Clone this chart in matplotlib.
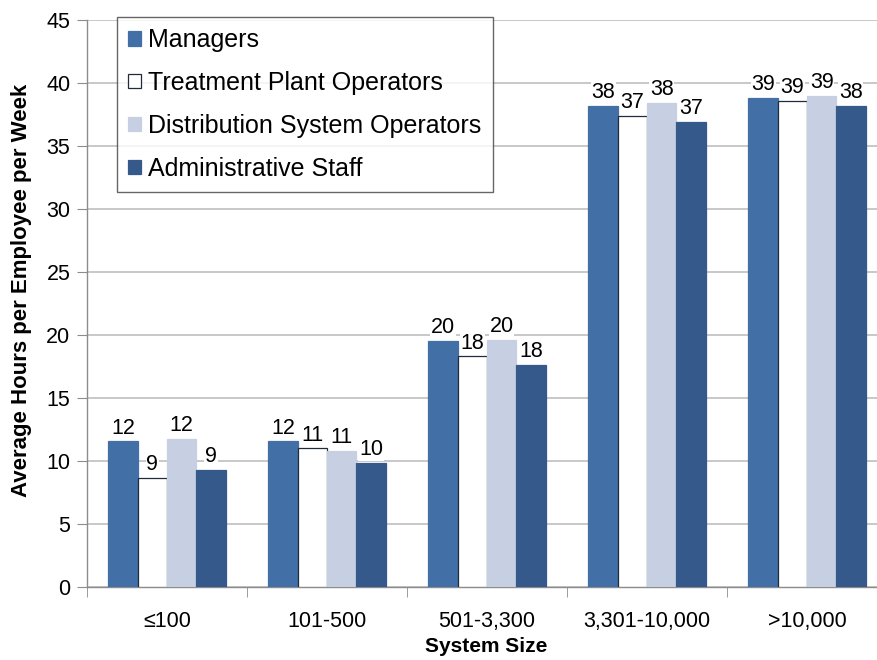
import matplotlib.pyplot as plt
import numpy as np

plt.rcParams['font.family'] = ['Liberation Sans', 'DejaVu Sans']

# Data
categories = ["\u2264100", "101-500", "501-3,300", "3,301-10,000", ">10,000"]
series_names = ["Managers", "Treatment Plant Operators",
                "Distribution System Operators", "Administrative Staff"]
managers = [11.55, 11.55, 19.55, 38.2, 38.8]
treatment = [8.65, 11.0, 18.3, 37.4, 38.6]
distribution = [11.75, 10.8, 19.6, 38.4, 39.0]
admin = [9.3, 9.85, 17.65, 36.9, 38.2]

colors = ['#4270A6', '#FFFFFF', '#C6D0E2', '#35598A']
edges = ['#4270A6', '#1F2A3A', '#C6D0E2', '#35598A']

fig = plt.figure(figsize=(8.77, 6.6), dpi=100)
# axes extends a little past the right edge of the picture, as in the reference
ax = fig.add_axes([87/877, 1 - 587/660, 800/877, 567/660])

x = np.arange(len(categories))
width = 0.183
all_series = [managers, treatment, distribution, admin]
for i, vals in enumerate(all_series):
    pos = x + (i - 1.5) * width
    bars = ax.bar(pos, vals, width, color=colors[i], edgecolor=edges[i],
                  linewidth=0.9, label=series_names[i], zorder=3)
    for b, v in zip(bars, vals):
        ax.annotate(f"{v:.0f}", (b.get_x() + b.get_width()/2, v),
                    xytext=(0, 2), textcoords='offset points',
                    ha='center', va='bottom', fontsize=15.5, zorder=4,
                    bbox=dict(facecolor='white', edgecolor='none', pad=0.5))

ax.set_xlim(-0.5, len(categories) - 0.5)
ax.set_ylim(0, 45)
ax.set_yticks(np.arange(0, 46, 5))
ax.yaxis.grid(True, color='#BFBFBF', linewidth=1.2, zorder=0)
ax.set_axisbelow(True)

ax.set_xticks(x)
ax.set_xticklabels(categories, fontsize=15.5)
ax.set_xticks(np.arange(-0.5, len(categories), 1), minor=True)
ax.tick_params(axis='x', which='major', length=0, pad=17)
ax.tick_params(axis='x', which='minor', length=7, color='#8C8C8C')
ax.tick_params(axis='y', length=7, color='#8C8C8C', labelsize=15.5, pad=5)

for s in ['top', 'right']:
    ax.spines[s].set_visible(False)
for s in ['left', 'bottom']:
    ax.spines[s].set_color('#8C8C8C')
    ax.spines[s].set_linewidth(1.0)

ax.set_ylabel("Average Hours per Employee per Week", fontsize=16,
              fontweight='bold', va='center')
ax.yaxis.set_label_coords(-(87 - 22) / 800, (587 - 290) / 567)
ax.set_xlabel("System Size", fontsize=15, fontweight='bold', va='center')
ax.xaxis.set_label_coords((486 - 87) / 800, -(647 - 587) / 567)

leg = ax.legend(loc='upper left', bbox_to_anchor=(117/877, 1 - 17/660),
                bbox_transform=fig.transFigure, fontsize=18, frameon=True,
                fancybox=False, edgecolor='#404040', handlelength=0.5,
                handleheight=0.5, handletextpad=0.3, labelspacing=0.75,
                borderpad=0.45, borderaxespad=0)
leg.get_frame().set_linewidth(1.0)
leg.set_zorder(5)

fig.savefig("out.png", dpi=100)
